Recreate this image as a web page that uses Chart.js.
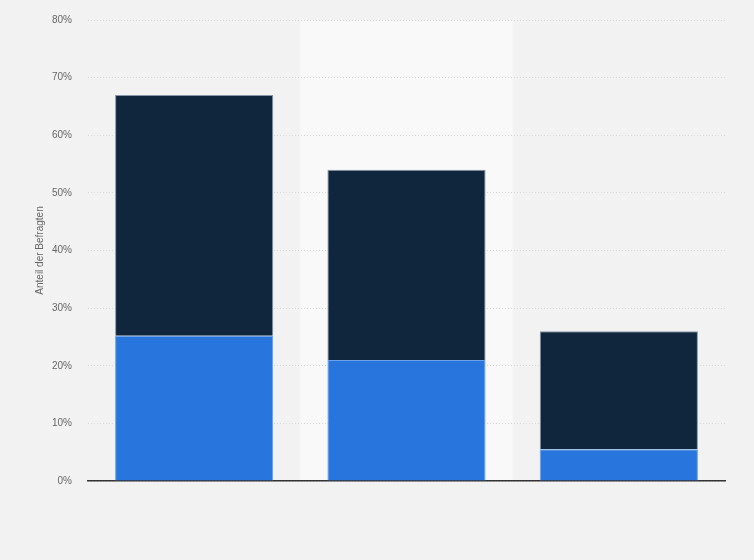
<!DOCTYPE html>
<html><head><meta charset="utf-8">
<script src="https://cdn.jsdelivr.net/npm/chart.js@4/dist/chart.umd.min.js"></script>
<style>html,body{margin:0;padding:0;background:#f2f2f2;}#wrap{width:754px;height:560px;position:relative;}</style>
</head><body><div id="wrap"><canvas id="c" width="754" height="560"></canvas></div>
<script>
const categories = ['A', 'B', 'C'];
const seriesLower = [25.2, 21, 5.5];
const seriesUpper = [41.8, 33, 20.5];
const yTicks = [0, 10, 20, 30, 40, 50, 60, 70, 80];

const bandPlugin = {
  id: 'band',
  beforeDraw(chart) {
    const {ctx, width, height, chartArea, scales} = chart;
    ctx.save();
    ctx.fillStyle = '#f2f2f2';
    ctx.fillRect(0, 0, width, height);
    const x = scales.x;
    const w = (chartArea.right - chartArea.left) / categories.length;
    const cx = x.getPixelForValue(1);
    ctx.fillStyle = '#f9f9f9';
    ctx.fillRect(cx - w / 2, chartArea.top, w, chartArea.bottom - chartArea.top);
    ctx.restore();
  }
};

new Chart(document.getElementById('c'), {
  type: 'bar',
  data: {
    labels: categories,
    datasets: [
      {label: 'Serie 1', data: seriesLower, backgroundColor: '#2876dd', borderColor: '#6aa3ea',
       borderWidth: {top: 1, left: 1, right: 1, bottom: 0}, borderSkipped: false},
      {label: 'Serie 2', data: seriesUpper, backgroundColor: '#0f263d', borderColor: '#8796a6',
       borderWidth: {top: 1, left: 1, right: 1, bottom: 0}, borderSkipped: false}
    ]
  },
  options: {
    responsive: false,
    animation: false,
    devicePixelRatio: 1,
    layout: {padding: {top: 20, right: 29, bottom: 79, left: 34}},
    plugins: {legend: {display: false}, tooltip: {enabled: false}},
    datasets: {bar: {categoryPercentage: 1, barPercentage: 0.745}},
    scales: {
      x: {
        stacked: true,
        ticks: {display: false},
        grid: {display: false, drawTicks: false},
        border: {display: true, color: '#333', width: 1.5}
      },
      y: {
        stacked: true,
        min: 0, max: 80,
        afterBuildTicks(scale) { scale.ticks = yTicks.map(v => ({value: v})); },
        afterFit(scale) { scale.width = 54; scale.paddingTop = 6; scale.paddingBottom = 6; },
        ticks: {
          padding: 16,
          color: '#666',
          font: {family: 'Arial, "Liberation Sans", sans-serif', size: 10},
          callback: v => v + '%'
        },
        grid: {color: '#d8d8d8', lineWidth: 1, drawTicks: false},
        border: {display: false, dash: [1, 2]},
        title: {
          display: true, text: 'Anteil der Befragten', color: '#666',
          font: {family: 'Arial, "Liberation Sans", sans-serif', size: 10},
          padding: {top: 0, bottom: 0}
        }
      }
    }
  },
  plugins: [bandPlugin]
});
</script></body></html>
